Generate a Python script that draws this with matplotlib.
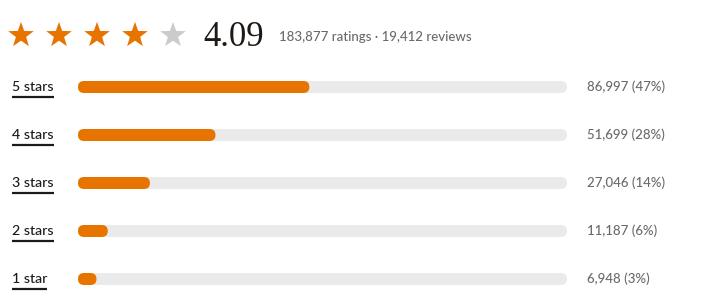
import numpy as np
import matplotlib.pyplot as plt
from matplotlib.patches import FancyBboxPatch, PathPatch
from matplotlib.path import Path

# rating summary
rating = 4.09
n_ratings = 183877
n_reviews = 19412

star_labels = ["5 stars", "4 stars", "3 stars", "2 stars", "1 star"]
counts = [86997, 51699, 27046, 11187, 6948]
percents = [47, 28, 14, 6, 3]

ORANGE = "#e87400"
TRACK = "#eaeaea"
GREY_STAR = "#c9cbcd"
DARK = "#1e1915"
MUTED = "#6a6a6a"

W, H = 721, 308
fig = plt.figure(figsize=(W / 100, H / 100), dpi=100)
ax = fig.add_axes([0, 0, 1, 1])
ax.set_xlim(0, W)
ax.set_ylim(H, 0)
ax.axis("off")

plt.rcParams["font.family"] = ["Lato", "DejaVu Sans"]


def star_path(cx, cy, r_out, r_in):
    ang = np.pi / 2 + np.arange(10) * np.pi / 5
    rad = np.where(np.arange(10) % 2 == 0, r_out, r_in)
    xs = cx + rad * np.cos(ang)
    ys = cy - rad * np.sin(ang)
    verts = np.column_stack([xs, ys])
    verts = np.vstack([verts, verts[:1]])
    codes = [Path.MOVETO] + [Path.LINETO] * 9 + [Path.CLOSEPOLY]
    return Path(verts, codes)


# header stars
full = int(round(rating))
for i in range(5):
    p = star_path(21 + 38 * i, 35.3, 13.4, 5.4)
    ax.add_patch(PathPatch(p, facecolor=ORANGE if i < full else GREY_STAR,
                           edgecolor="none"))

ax.text(203, 37.5, f"{rating:.2f}", fontsize=25, family="Liberation Serif",
        color=DARK, va="center", ha="left")
ax.text(279, 37, f"{n_ratings:,} ratings \u00b7 {n_reviews:,} reviews",
        fontsize=9.5, weight="medium", color=MUTED, va="center", ha="left")

# distribution bars
total = sum(counts)
x0, x1 = 78, 567
bar_h = 12
y_rows = [87, 135, 183, 231, 279]
for lab, c, pct, y in zip(star_labels, counts, percents, y_rows):
    ax.add_patch(FancyBboxPatch((x0, y - bar_h / 2), x1 - x0, bar_h,
                                boxstyle="round,pad=0,rounding_size=6",
                                facecolor=TRACK, edgecolor="none"))
    w = (x1 - x0) * c / total
    ax.add_patch(FancyBboxPatch((x0, y - bar_h / 2), w, bar_h,
                                boxstyle="round,pad=0,rounding_size=6",
                                facecolor=ORANGE, edgecolor="none"))
    t = ax.text(12, y, lab, fontsize=10.2, weight="medium", color=DARK,
                va="center", ha="left")
    fig.canvas.draw()
    bb = t.get_window_extent().transformed(ax.transData.inverted())
    ax.plot([12, bb.x1], [y + 10, y + 10], color=DARK, lw=1.6,
            solid_capstyle="butt")
    ax.text(587, y, f"{c:,} ({pct}%)", fontsize=9.5, weight="medium",
            color=MUTED, va="center", ha="left")

fig.savefig("out.png", dpi=100, facecolor="white")
